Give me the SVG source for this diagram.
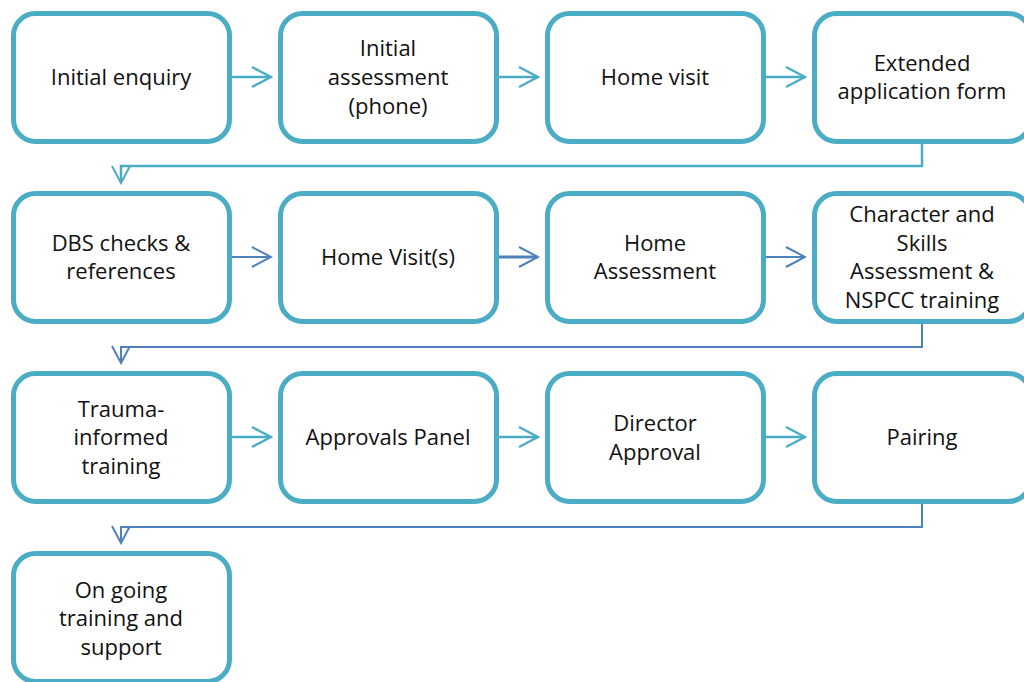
<svg xmlns="http://www.w3.org/2000/svg" width="1024" height="682" viewBox="0 0 1024 682">
<defs>
<style>
.box{fill:#fff;stroke:#4BACC6;stroke-width:5}
.t{font-family:"Open Sans","Liberation Sans",sans-serif;font-size:22px;fill:#111;text-anchor:middle}
.ct{fill:none;stroke:#4BACC6;stroke-width:2.5}
.cb{fill:none;stroke:#4F81BD;stroke-width:2}
</style>
<marker id="aht" markerUnits="userSpaceOnUse" markerWidth="24" markerHeight="24" viewBox="-22 -12 24 24" refX="0" refY="0" orient="auto">
<path d="M-19,-10 L0,0 L-19,10" fill="none" stroke="#4BACC6" stroke-width="2.5"/>
</marker>
<marker id="ahb" markerUnits="userSpaceOnUse" markerWidth="24" markerHeight="24" viewBox="-22 -12 24 24" refX="0" refY="0" orient="auto">
<path d="M-19,-10 L0,0 L-19,10" fill="none" stroke="#4F81BD" stroke-width="2"/>
</marker>
<marker id="vt" markerUnits="userSpaceOnUse" markerWidth="24" markerHeight="24" viewBox="-22 -12 24 24" refX="0" refY="0" orient="auto">
<path d="M-17,-9 L0,0 L-17,9" fill="none" stroke="#4BACC6" stroke-width="2"/>
</marker>
<marker id="vb" markerUnits="userSpaceOnUse" markerWidth="24" markerHeight="24" viewBox="-22 -12 24 24" refX="0" refY="0" orient="auto">
<path d="M-17,-9 L0,0 L-17,9" fill="none" stroke="#4F81BD" stroke-width="2"/>
</marker>
</defs>
<rect width="1024" height="682" fill="#fff"/>
<g id="connectors">
<line class="ct" x1="232" y1="77" x2="271" y2="77" marker-end="url(#aht)"/>
<line class="ct" x1="499" y1="77" x2="538" y2="77" marker-end="url(#aht)"/>
<line class="ct" x1="766" y1="77" x2="805" y2="77" marker-end="url(#aht)"/>
<polyline class="ct" points="922,144 922,166 121,166 121,183" marker-end="url(#vt)"/>
<line class="cb" x1="232" y1="257" x2="271" y2="257" marker-end="url(#ahb)"/>
<line class="cb" x1="499" y1="257" x2="538" y2="257" style="stroke-width:3" marker-end="url(#ahb)"/>
<line class="cb" x1="766" y1="257" x2="805" y2="257" marker-end="url(#ahb)"/>
<polyline class="cb" points="922,324 922,347 121,347 121,363" marker-end="url(#vb)"/>
<line class="ct" x1="232" y1="437" x2="271" y2="437" marker-end="url(#aht)"/>
<line class="ct" x1="499" y1="437" x2="538" y2="437" marker-end="url(#aht)"/>
<line class="ct" x1="766" y1="437" x2="805" y2="437" marker-end="url(#aht)"/>
<polyline class="cb" points="922,504 922,527 121,527 121,543" marker-end="url(#vb)"/>
</g>
<g id="n1"><rect class="box" x="13.5" y="13.5" width="216" height="128" rx="22"/><text class="t" x="121" y="85">Initial enquiry</text></g>
<g id="n2"><rect class="box" x="280.5" y="13.5" width="216" height="128" rx="22"/><text class="t" x="388" y="56">Initial</text><text class="t" x="388" y="85">assessment</text><text class="t" x="388" y="114">(phone)</text></g>
<g id="n3"><rect class="box" x="547.5" y="13.5" width="216" height="128" rx="22"/><text class="t" x="655" y="85">Home visit</text></g>
<g id="n4"><rect class="box" x="814.5" y="13.5" width="216" height="128" rx="22"/><text class="t" x="922" y="71">Extended</text><text class="t" x="922" y="99">application form</text></g>
<g id="n5"><rect class="box" x="13.5" y="193.5" width="216" height="128" rx="22"/><text class="t" x="121" y="251">DBS checks &amp;</text><text class="t" x="121" y="279">references</text></g>
<g id="n6"><rect class="box" x="280.5" y="193.5" width="216" height="128" rx="22"/><text class="t" x="388" y="265">Home Visit(s)</text></g>
<g id="n7"><rect class="box" x="547.5" y="193.5" width="216" height="128" rx="22"/><text class="t" x="655" y="251">Home</text><text class="t" x="655" y="279">Assessment</text></g>
<g id="n8"><rect class="box" x="814.5" y="193.5" width="216" height="128" rx="22"/><text class="t" x="922" y="222">Character and</text><text class="t" x="922" y="251">Skills</text><text class="t" x="922" y="279">Assessment &amp;</text><text class="t" x="922" y="308">NSPCC training</text></g>
<g id="n9"><rect class="box" x="13.5" y="373.5" width="216" height="128" rx="22"/><text class="t" x="121" y="417">Trauma-</text><text class="t" x="121" y="445">informed</text><text class="t" x="121" y="474">training</text></g>
<g id="n10"><rect class="box" x="280.5" y="373.5" width="216" height="128" rx="22"/><text class="t" x="388" y="445">Approvals Panel</text></g>
<g id="n11"><rect class="box" x="547.5" y="373.5" width="216" height="128" rx="22"/><text class="t" x="655" y="431">Director</text><text class="t" x="655" y="460">Approval</text></g>
<g id="n12"><rect class="box" x="814.5" y="373.5" width="216" height="128" rx="22"/><text class="t" x="922" y="445">Pairing</text></g>
<g id="n13"><rect class="box" x="13.5" y="553.5" width="216" height="128" rx="22"/><text class="t" x="121" y="598">On going</text><text class="t" x="121" y="626">training and</text><text class="t" x="121" y="655">support</text></g>
</svg>
